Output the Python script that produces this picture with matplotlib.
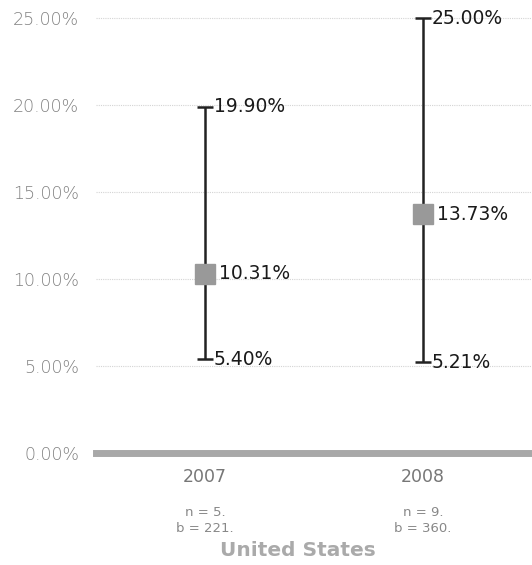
import matplotlib
matplotlib.use("Agg")
import matplotlib.pyplot as plt
from matplotlib.transforms import blended_transform_factory

years = ["2007", "2008"]
means = [10.31, 13.73]
lows = [5.40, 5.21]
highs = [19.90, 25.00]
n_vals = [5, 9]
b_vals = [221, 360]
region = "United States"
yticks = [0, 5, 10, 15, 20, 25]

W, H = 532, 565
fig = plt.figure(figsize=(W/100, H/100), dpi=100)
ax = fig.add_axes([96/W, (H-453)/H, 1-96/W, (453-18)/H])
ax.set_xlim(0, 2)
ax.set_ylim(0, 25)
xs = [0.5 + i for i in range(len(years))]

for y in yticks[1:]:
    ax.axhline(y, color="#d4d4d4", lw=0.8, ls=(0, (1, 1)), zorder=0, clip_on=False)
ax.axhline(0, color="#a8a8a8", lw=5, zorder=1, clip_on=False)

font = "DejaVu Sans"
for x, m, lo, hi in zip(xs, means, lows, highs):
    ax.errorbar([x], [m], yerr=[[m - lo], [hi - m]], fmt="none", ecolor="#222222",
                elinewidth=1.8, capsize=6, capthick=1.8, zorder=3, clip_on=False)
    ax.plot([x], [m], marker="s", ms=14, color="#999999", mec="#999999", zorder=4, clip_on=False)
    for v, dx in ((hi, 6.5), (lo, 6.5), (m, 10)):
        ax.annotate(f"{v:.2f}%", (x, v), xytext=(dx, 0), textcoords="offset points",
                    ha="left", va="center", fontsize=13.5, color="#1a1a1a",
                    family=font, annotation_clip=False)

ax.set_yticks(yticks)
ax.set_yticklabels([f"{t:.2f}%" for t in yticks], color="#808080", fontsize=12.5,
                   family=font, fontweight="light")
ax.tick_params(axis="y", length=0, pad=12)
ax.set_xticks([])
for s in ax.spines.values():
    s.set_visible(False)

tr = blended_transform_factory(ax.transData, fig.transFigure)
for x, yr, n, b in zip(xs, years, n_vals, b_vals):
    ax.text(x, (H-477)/H, yr, transform=tr, ha="center", va="center",
            fontsize=12.5, color="#777777", family=font)
    ax.text(x, (H-513)/H, f"n = {n}.", transform=tr, ha="center", va="center",
            fontsize=9.5, color="#888888", family=font)
    ax.text(x, (H-529)/H, f"b = {b}.", transform=tr, ha="center", va="center",
            fontsize=9.5, color="#888888", family=font)
fig.text(298/W, (H-551)/H, region, ha="center", va="center", fontsize=14.5,
         fontweight="bold", color="#aaaaaa", family=font)

fig.savefig("out.png", dpi=100)
